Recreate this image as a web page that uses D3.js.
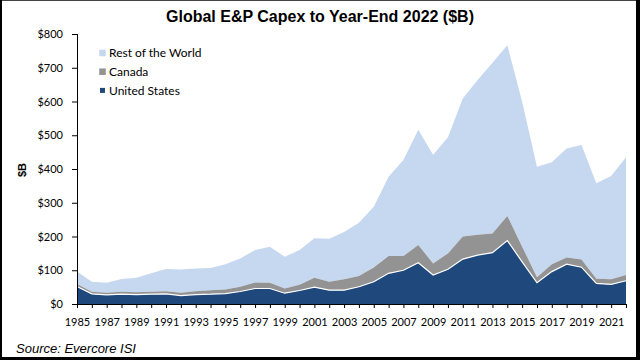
<!DOCTYPE html>
<html>
<head>
<meta charset="utf-8">
<script src="https://cdn.jsdelivr.net/npm/d3@7"></script>
<style>
  html, body { margin: 0; padding: 0; background: #fff; }
  svg { display: block; }
</style>
</head>
<body>
<svg id="chart" width="640" height="360"></svg>
<script>
const years = [1985,1986,1987,1988,1989,1990,1991,1992,1993,1994,1995,1996,1997,1998,1999,2000,2001,2002,2003,2004,2005,2006,2007,2008,2009,2010,2011,2012,2013,2014,2015,2016,2017,2018,2019,2020,2021,2022];
const unitedStates = [52,30,27,29,28,29,30,25,28,29,31,37,46,46,32,40,50,41,41,51,66,91,100,122,86,103,133,145,152,188,125,63,96,118,109,61,58,69];
const canada = [7,6,6,7,7,7,8,8,10,12,12,14,18,17,14,17,28,25,32,32,42,51,42,53,34,47,67,60,57,73,45,16,22,20,23,14,15,17];
const restOfWorld = [37,30,30,38,43,55,66,69,67,66,75,84,96,107,94,103,117,127,140,158,180,235,285,341,322,344,409,459,506,506,429,328,302,323,339,283,306,349];
const seriesNames = ["United States","Canada","Rest of the World"];
const yTicks = [0,100,200,300,400,500,600,700,800];
const colors = {"United States":"#1f497d","Canada":"#939393","Rest of the World":"#c6d8ef"};

const svg = d3.select("#chart");
const x = d3.scaleLinear().domain([1985, 2022]).range([77, 626]);
const y = d3.scaleLinear().domain([0, 800]).range([304, 34]);

const table = years.map((yr, i) => ({year: yr, "United States": unitedStates[i], "Canada": canada[i], "Rest of the World": restOfWorld[i]}));
const stacked = d3.stack().keys(seriesNames)(table);

const area = d3.area()
  .x(d => x(d.data.year))
  .y0(d => y(d[0]))
  .y1(d => y(d[1]));

svg.append("g").selectAll("path")
  .data(stacked.slice().reverse())
  .join("path")
  .attr("d", area)
  .attr("fill", d => colors[d.key]);

// white edge on top of US
const usLine = d3.line().x(d => x(d.data.year)).y(d => y(d[1]));
svg.append("path").attr("d", usLine(stacked[0])).attr("fill","none").attr("stroke","#fff").attr("stroke-width",1.2);

// axes
const yAxis = d3.axisLeft(y).tickValues(yTicks).tickSize(5).tickPadding(9).tickFormat(d => "$" + d);
const gy = svg.append("g").attr("transform", "translate(77,0)").call(yAxis);
gy.select(".domain").attr("stroke","#000").attr("d","M0.5,34V304.5");
gy.selectAll(".tick line").attr("stroke","#000").attr("x2",-5);
gy.selectAll("text").attr("font-family","Lato, sans-serif").attr("font-size","11px").attr("fill","#000");

const xAxis = d3.axisBottom(x).tickValues(years).tickSize(4).tickPadding(10).tickFormat(d => d % 2 === 1 ? String(d) : "");
const gx = svg.append("g").attr("transform", "translate(0,304)").call(xAxis);
gx.select(".domain").attr("stroke","#000").attr("d","M77,0.5H626");
gx.selectAll(".tick line").attr("stroke","#000");
gx.selectAll("text").attr("font-family","Lato, sans-serif").attr("font-size","11px").attr("fill","#000");

// y title
svg.append("text").attr("transform","translate(25.5,170) rotate(-90)")
  .attr("text-anchor","middle").attr("font-family","Liberation Sans, Arial, sans-serif")
  .attr("font-weight","bold").attr("font-size","11px").text("$B");

// title
svg.append("text").attr("x",320).attr("y",22).attr("text-anchor","middle")
  .attr("font-family","Liberation Sans, Arial, sans-serif").attr("font-weight","bold")
  .attr("font-size","16px").text("Global E&P Capex to Year-End 2022 ($B)");

// legend
const legendItems = ["Rest of the World","Canada","United States"];
const lg = svg.append("g");
legendItems.forEach((name, i) => {
  const cy = 53 + i * 18.7;
  const s = name === "United States" ? 5 : 6.5;
  lg.append("rect").attr("x", 102.5 - s/2).attr("y", cy - s/2).attr("width", s).attr("height", s).attr("fill", colors[name]);
  lg.append("text").attr("x",109).attr("y",cy + 4.3).attr("font-family","Lato, sans-serif")
    .attr("font-size","12px").attr("fill","#000").text(name);
});

// source
svg.append("text").attr("x",16).attr("y",352.5).attr("font-family","Liberation Sans, Arial, sans-serif")
  .attr("font-style","italic").attr("font-size","13px").attr("fill","#000").text("Source: Evercore ISI");

// frame
svg.append("rect").attr("x",0).attr("y",0).attr("width",640).attr("height",1).attr("fill","#444");
svg.append("rect").attr("x",0).attr("y",0).attr("width",2).attr("height",360).attr("fill","#000");
svg.append("rect").attr("x",636).attr("y",0).attr("width",4).attr("height",360).attr("fill","#000");
svg.append("rect").attr("x",0).attr("y",357).attr("width",640).attr("height",3).attr("fill","#000");
</script>
</body>
</html>
